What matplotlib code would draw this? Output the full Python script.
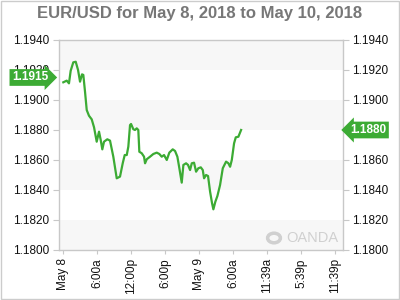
import numpy as np
import matplotlib
matplotlib.use("Agg")
import matplotlib.pyplot as plt
from matplotlib.patches import Rectangle, Circle
import matplotlib.transforms as mtransforms

plt.rcParams['font.family'] = ['Liberation Sans', 'DejaVu Sans']

# ---------------- DATI ----------------
title = "EUR/USD for May 8, 2018 to May 10, 2018"

# ore dall'inizio (May 8, 00:00)
hours = [0.0, 0.6, 1.0, 1.3, 1.76, 2.19, 2.6, 2.95, 3.3, 3.53,
         3.83, 4.13, 4.53, 5.01, 5.42, 5.89, 6.3, 6.6, 6.88, 7.18,
         7.76, 8.24, 8.82, 9.42, 10.0, 10.48, 10.83, 11.19, 11.47, 11.77,
         11.95, 12.35, 12.65, 12.95, 13.23, 13.41, 13.83, 14.24, 14.42, 14.72,
         15.3, 15.88, 16.48, 16.94, 17.36, 17.77, 18.25, 18.7, 19.3, 19.71,
         20.12, 20.47, 20.89, 21.18, 21.65, 22.0, 22.36, 22.66, 23.06, 23.42,
         23.82, 24.25, 24.6, 24.83, 25.18, 25.53, 25.89, 26.24, 26.47, 26.82,
         27.18, 27.65, 28.13, 28.71, 29.12, 29.42, 29.72, 30.12, 30.42, 30.88,
         31.36]
prices = [1.19118, 1.19129, 1.19111, 1.19195, 1.19251, 1.19255, 1.19200, 1.19122, 1.19171, 1.19167,
          1.19055, 1.18933, 1.18895, 1.18871, 1.18818, 1.18722, 1.18789, 1.18733, 1.18671, 1.18722,
          1.18738, 1.18729, 1.18622, 1.18478, 1.18489, 1.18578, 1.18633, 1.18633, 1.18689, 1.18833,
          1.18840, 1.18805, 1.18800, 1.18811, 1.18800, 1.18655, 1.18645, 1.18622, 1.18578, 1.18605,
          1.18622, 1.18640, 1.18649, 1.18640, 1.18622, 1.18633, 1.18600, 1.18649, 1.18671, 1.18660,
          1.18622, 1.18545, 1.18449, 1.18567, 1.18578, 1.18567, 1.18533, 1.18578, 1.18582, 1.18522,
          1.18545, 1.18551, 1.18533, 1.18478, 1.18500, 1.18493, 1.18389, 1.18311, 1.18271, 1.18322,
          1.18360, 1.18433, 1.18545, 1.18589, 1.18578, 1.18555, 1.18600, 1.18711, 1.18751, 1.18755,
          1.18800]

x_tick_pos = [0, 6, 12, 18, 24, 30, 36, 42, 48]
x_tick_labels = ["May 8", "6:00a", "12:00p", "6:00p", "May 9", "6:00a", "11:39a", "5:39p", "11:39p"]
y_ticks = [1.1800, 1.1820, 1.1840, 1.1860, 1.1880, 1.1900, 1.1920, 1.1940]

open_label = 1.1915
last_label = prices[-1]

green = "#3cab34"
gray_line = "#c8c8c8"

# ---------------- GRAFICO ----------------
fig = plt.figure(figsize=(4, 3), dpi=100)
fig.patch.set_facecolor("white")
fig.patches.append(Rectangle((0.002, 0.003), 0.996, 0.994, transform=fig.transFigure,
                             fill=False, edgecolor="#cccccc", linewidth=1))

ax = fig.add_axes([0.1475, 0.1667, 0.7095, 0.7])
ax.set_xlim(-0.76, 49.3)
ax.set_ylim(1.1800, 1.1940)

# bande alternate
for i in range(len(y_ticks) - 1):
    if i % 2 == 0:
        ax.axhspan(y_ticks[i], y_ticks[i + 1], color="#f7f7f7", zorder=0, lw=0)

ax.plot(hours, prices, color=green, linewidth=1.6, zorder=3)

ax.set_yticks(y_ticks)
ax.set_yticklabels([f"{v:.4f}" for v in y_ticks])
ax.set_xticks(x_tick_pos)
ax.set_xticklabels(x_tick_labels, rotation=90, va="top", ha="center")

ax.tick_params(axis="y", which="both", left=True, right=True, labelleft=True, labelright=True,
               length=4, color=gray_line, labelsize=8.5, labelcolor="#111111", pad=3)
ax.tick_params(axis="x", length=3, color=gray_line, labelsize=8.5, labelcolor="#111111", pad=3)
for s in ax.spines.values():
    s.set_color(gray_line)
    s.set_linewidth(1)

# l'etichetta di destra coperta dal box verde
for t in ax.yaxis.get_major_ticks():
    if abs(t.get_loc() - last_label) < 1e-6:
        t.label2.set_visible(False)

fig.text(0.5, 0.955, title, ha="center", va="center", fontsize=12,
         fontweight="bold", color="#777777")

# etichette verdi
trans_left = mtransforms.blended_transform_factory(fig.transFigure, ax.transData)
ax.text(0.075, open_label, f"{open_label:.4f}", transform=trans_left, ha="center", va="center",
        fontsize=8.5, fontweight="bold", color="white", zorder=5,
        bbox=dict(boxstyle="rarrow,pad=0.2", fc=green, ec="none"))
ax.text(0.921, last_label, f"{last_label:.4f}", transform=trans_left, ha="center", va="center",
        fontsize=8.5, fontweight="bold", color="white", zorder=5,
        bbox=dict(boxstyle="larrow,pad=0.2", fc=green, ec="none"))

# watermark OANDA
fig.patches.append(Circle((274 / 400, 1 - 238 / 300), 0.016, transform=fig.transFigure,
                          fill=False, edgecolor="#d0d0d0", linewidth=2.5))
fig.text(0.715, 1 - 238 / 300, "OANDA", ha="left", va="center", fontsize=10.5,
         color="#d0d0d0")

fig.savefig("out.png", dpi=100)
